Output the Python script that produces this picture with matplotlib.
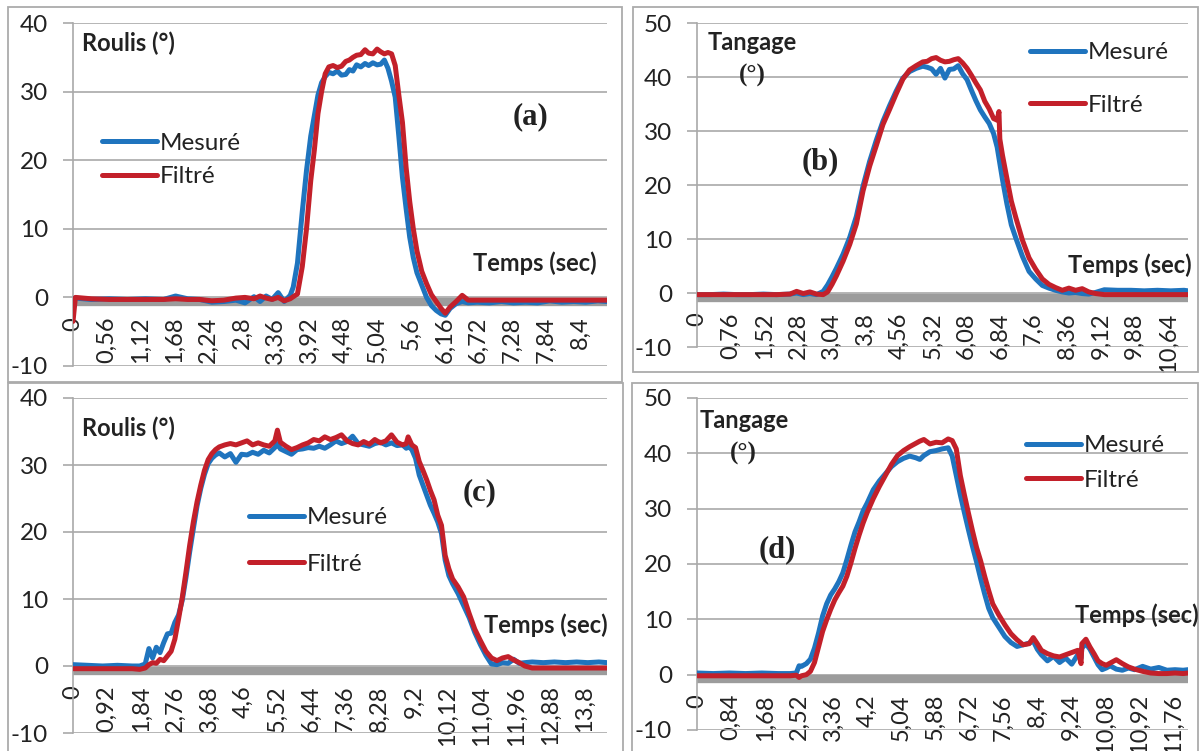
import matplotlib
matplotlib.use("Agg")
import matplotlib.pyplot as plt
from matplotlib.patches import Rectangle

# ---------------- data ----------------
# Panel (a) Roulis
t_a = [0, 0.04, 0.3, 0.6, 0.9, 1.2, 1.5, 1.7, 1.9, 2.1, 2.3, 2.5, 2.7, 2.85, 3.0, 3.1, 3.2, 3.3, 3.4, 3.5,
       3.6, 3.65, 3.72, 3.8, 3.87, 3.94, 4.0, 4.06, 4.12, 4.18, 4.24, 4.31, 4.38, 4.45, 4.52, 4.58, 4.64, 4.7, 4.77, 4.84,
       4.9, 4.97, 5.04, 5.1, 5.16, 5.22, 5.28, 5.34, 5.4, 5.46, 5.52, 5.58, 5.64, 5.7, 5.78, 5.86, 5.94, 6.02, 6.1, 6.17,
       6.25, 6.35, 6.45, 6.55, 6.7, 6.9, 7.1, 7.3, 7.5, 7.7, 7.9, 8.1, 8.3, 8.5, 8.7, 8.85]
mesure_a = [-0.2, -0.1, -0.3, -0.2, -0.3, -0.2, -0.3, 0.2, -0.2, -0.3, -0.7, -0.6, -0.4, -0.8, 0.1, -0.6, 0.2, -0.3, 0.7, -0.6,
            0.3, 1.5, 5.0, 12.5, 18.5, 23.5, 26.5, 29.5, 31.3, 32.2, 32.8, 32.6, 33.0, 32.4, 32.5, 33.2, 33.0, 33.9, 33.6, 34.1,
            33.8, 34.2, 33.9, 34.0, 34.6, 33.4, 31.5, 29.2, 23.5, 17.5, 13.0, 8.8, 5.8, 3.6, 1.8, 0.0, -1.2, -1.9, -2.4, -2.6,
            -1.6, -0.9, -0.6, -0.8, -0.7, -0.8, -0.6, -0.8, -0.7, -0.8, -0.5, -0.7, -0.6, -0.7, -0.5, -0.6]
filtre_a = [-3.5, 0.0, -0.2, -0.3, -0.3, -0.3, -0.3, -0.2, -0.3, -0.3, -0.5, -0.4, -0.1, 0.0, -0.2, 0.2, -0.1, -0.3, 0.0, -0.5,
            -0.2, 0.1, 0.5, 4.5, 10.0, 17.0, 21.5, 26.8, 30.0, 32.6, 33.6, 33.8, 33.5, 33.7, 34.4, 34.6, 35.0, 35.3, 35.4, 36.1,
            35.6, 35.5, 36.2, 35.8, 35.5, 35.7, 35.5, 33.8, 29.5, 25.5, 19.0, 14.0, 10.0, 6.8, 3.8, 2.0, 0.4, -0.6, -1.6, -2.3,
            -1.4, -0.6, 0.3, -0.4, -0.4, -0.4, -0.4, -0.4, -0.4, -0.4, -0.4, -0.4, -0.4, -0.4, -0.4, -0.4]

# Panel (b) Tangage
t_b = [0, 0.3, 0.6, 0.9, 1.2, 1.5, 1.8, 2.1, 2.25, 2.4, 2.55, 2.7, 2.85, 2.95, 3.05, 3.15, 3.3, 3.45, 3.6, 3.75,
       3.9, 4.05, 4.2, 4.35, 4.5, 4.65, 4.8, 4.95, 5.1, 5.2, 5.3, 5.4, 5.5, 5.6, 5.7, 5.8, 5.9, 6.0, 6.1, 6.2,
       6.3, 6.4, 6.5, 6.6, 6.7, 6.78, 6.82, 6.84, 6.9, 7.0, 7.1, 7.2, 7.35, 7.5, 7.65, 7.8, 7.95, 8.1, 8.25, 8.4,
       8.55, 8.7, 8.85, 9.0, 9.2, 9.5, 9.8, 10.1, 10.4, 10.7, 11.0, 11.09]
mesure_b = [-0.3, -0.3, -0.2, -0.3, -0.3, -0.2, -0.3, -0.2, 0.0, -0.3, -0.1, -0.3, 0.3, 1.5, 3.0, 4.6, 7.2, 10.3, 14.2, 19.8,
            24.4, 28.3, 31.8, 34.7, 37.4, 39.8, 41.0, 41.6, 42.0, 41.8, 41.5, 40.5, 41.6, 39.8, 41.4, 41.5, 42.1, 40.6, 39.5, 37.5,
            35.6, 33.9, 32.6, 31.4, 29.5, 27.0, 25.0, 24.0, 21.0, 16.5, 12.6, 10.2, 6.8, 4.0, 2.6, 1.4, 0.9, 0.5, 0.2, 0.0,
            0.1, -0.1, -0.2, 0.1, 0.6, 0.5, 0.5, 0.4, 0.5, 0.4, 0.5, 0.4]
filtre_b = [-0.3, -0.3, -0.3, -0.3, -0.3, -0.3, -0.3, -0.2, 0.3, -0.1, 0.2, -0.2, -0.3, 0.2, 1.6, 3.2, 5.9, 9.0, 12.8, 18.9,
            23.5, 27.3, 31.2, 34.0, 36.9, 39.6, 41.3, 42.1, 42.8, 42.9, 43.4, 43.6, 43.1, 42.8, 42.9, 43.2, 43.4, 42.6, 41.6, 40.3,
            38.9, 37.6, 35.5, 34.1, 32.3, 32.0, 33.6, 28.5, 25.5, 21.2, 17.0, 14.0, 9.8, 6.5, 4.4, 2.6, 1.6, 1.0, 0.5, 0.9,
            0.5, 0.8, 0.2, -0.1, -0.3, -0.3, -0.3, -0.3, -0.3, -0.3, -0.3, -0.3]

# Panel (c) Roulis
t_c = [0, 0.4, 0.8, 1.2, 1.6, 1.8, 1.95, 2.05, 2.15, 2.25, 2.35, 2.45, 2.55, 2.65, 2.75, 2.85, 2.95, 3.05, 3.15, 3.25,
       3.35, 3.45, 3.55, 3.65, 3.75, 3.85, 3.95, 4.1, 4.25, 4.4, 4.55, 4.7, 4.85, 5.0, 5.15, 5.3, 5.45, 5.52, 5.6, 5.75,
       5.9, 6.05, 6.2, 6.35, 6.5, 6.65, 6.8, 6.95, 7.1, 7.25, 7.4, 7.55, 7.7, 7.85, 8.0, 8.15, 8.3, 8.45, 8.6, 8.75,
       8.9, 9.0, 9.05, 9.15, 9.25, 9.35, 9.45, 9.55, 9.65, 9.75, 9.85, 9.95, 10.05, 10.15, 10.25, 10.4, 10.55, 10.7, 10.85, 11.0,
       11.15, 11.3, 11.45, 11.6, 11.75, 11.9, 12.05, 12.2, 12.4, 12.7, 13.0, 13.3, 13.6, 13.9, 14.2, 14.42]
mesure_c = [0.2, 0.1, 0.0, 0.1, 0.0, 0.0, 0.3, 2.6, 1.2, 2.8, 2.0, 3.5, 4.8, 4.9, 6.5, 7.6, 9.8, 13.2, 17.0, 20.5,
            23.9, 26.5, 28.6, 30.2, 31.0, 31.5, 31.8, 31.2, 31.7, 30.4, 31.6, 31.5, 31.9, 31.6, 32.2, 31.8, 32.6, 33.2, 32.4, 32.0,
            31.6, 32.3, 32.4, 32.6, 32.5, 32.8, 32.5, 33.0, 33.6, 33.2, 33.5, 34.3, 33.2, 33.0, 32.8, 33.2, 33.4, 33.0, 33.3, 32.9,
            33.0, 32.5, 32.8, 32.3, 31.0, 28.5, 27.0, 25.5, 24.0, 22.8, 21.5, 19.8, 15.8, 13.5, 12.3, 10.8, 9.0, 7.2, 5.0, 3.2,
            1.6, 0.3, 0.2, 0.5, 0.4, 1.0, 0.4, 0.5, 0.6, 0.5, 0.6, 0.5, 0.6, 0.5, 0.6, 0.5]
filtre_c = [-0.4, -0.4, -0.4, -0.4, -0.4, -0.5, -0.3, 0.2, 0.5, 0.4, 1.0, 0.8, 1.5, 2.2, 4.0, 7.0, 10.2, 14.0, 18.0, 21.5,
            24.5, 27.0, 29.2, 30.8, 31.7, 32.3, 32.7, 33.0, 33.2, 33.0, 33.3, 33.6, 33.0, 33.3, 33.0, 32.8, 33.6, 35.2, 33.4, 32.8,
            32.3, 32.6, 33.0, 33.3, 33.8, 33.6, 34.2, 33.8, 34.1, 34.5, 33.6, 33.2, 33.0, 33.5, 33.1, 33.8, 33.3, 33.6, 34.5, 33.4,
            33.0, 33.2, 34.2, 33.0, 32.6, 30.5, 29.2, 27.8, 26.2, 24.8, 22.5, 21.0, 16.5, 14.5, 13.0, 11.8, 10.3, 7.8, 5.5, 3.8,
            2.2, 1.2, 0.8, 1.2, 1.4, 0.9, 0.5, 0.0, -0.3, -0.3, -0.3, -0.3, -0.3, -0.3, -0.3, -0.3]

# Panel (d) Tangage
t_d = [0, 0.4, 0.8, 1.2, 1.6, 2.0, 2.3, 2.45, 2.52, 2.58, 2.7, 2.8, 2.9, 3.0, 3.1, 3.2, 3.3, 3.4, 3.5, 3.6,
       3.7, 3.8, 3.9, 4.0, 4.1, 4.2, 4.35, 4.5, 4.65, 4.8, 4.95, 5.1, 5.25, 5.4, 5.5, 5.6, 5.75, 5.9, 6.05, 6.2,
       6.3, 6.4, 6.5, 6.6, 6.7, 6.8, 6.9, 7.0, 7.1, 7.2, 7.3, 7.45, 7.6, 7.75, 7.9, 8.05, 8.2, 8.3, 8.4, 8.5,
       8.65, 8.8, 8.95, 9.1, 9.25, 9.4, 9.48, 9.5, 9.6, 9.7, 9.8, 9.9, 10.0, 10.1, 10.2, 10.35, 10.5, 10.65, 10.8, 11.0,
       11.2, 11.4, 11.6, 11.8, 12.0, 12.12]
mesure_d = [0.3, 0.2, 0.3, 0.2, 0.3, 0.2, 0.2, 0.3, 1.6, 1.5, 2.0, 2.8, 4.8, 7.5, 10.6, 12.8, 14.4, 15.5, 16.8, 18.4,
            20.8, 23.4, 25.8, 27.6, 29.6, 31.0, 33.4, 35.0, 36.3, 37.6, 38.5, 39.1, 39.5, 39.2, 38.9, 39.6, 40.3, 40.5, 40.8, 41.0,
            39.5, 36.0, 32.5, 29.3, 26.2, 23.2, 20.4, 17.4, 14.6, 12.0, 10.3, 8.6, 6.9, 5.8, 5.1, 5.4, 5.7, 6.1, 4.6, 3.6,
            2.5, 3.3, 2.2, 3.0, 1.9, 3.6, 3.0, 4.8, 5.6, 4.6, 3.2, 1.8, 0.9, 1.2, 1.6, 1.0, 0.8, 1.2, 0.9, 1.5,
            1.0, 1.3, 0.8, 0.9, 0.8, 0.9]
filtre_d = [-0.2, -0.2, -0.2, -0.2, -0.2, -0.2, -0.2, -0.1, -0.5, -0.2, 0.0, 0.6, 2.2, 5.0, 7.8, 9.9, 11.8, 13.5, 14.8, 16.0,
            17.8, 20.2, 22.8, 25.2, 27.4, 29.3, 31.8, 34.0, 36.0, 38.0, 39.6, 40.5, 41.2, 41.8, 42.2, 42.5, 41.7, 42.0, 41.9, 42.6,
            42.3, 40.8, 36.0, 32.5, 29.2, 26.0, 23.0, 20.6, 17.8, 15.2, 12.8, 10.8, 9.0, 7.4, 6.3, 5.4, 5.6, 6.7, 5.6, 4.4,
            3.8, 3.4, 3.2, 3.6, 4.0, 4.4, 2.0, 5.6, 6.4, 5.0, 3.8, 2.5, 2.0, 1.7, 2.1, 2.7, 2.0, 1.4, 1.0, 0.6,
            0.3, 0.2, 0.2, 0.3, 0.2, 0.3]

# category tick values (seconds)
xticks_a = [0, 0.56, 1.12, 1.68, 2.24, 2.8, 3.36, 3.92, 4.48, 5.04, 5.6, 6.16, 6.72, 7.28, 7.84, 8.4]
xticks_b = [0, 0.76, 1.52, 2.28, 3.04, 3.8, 4.56, 5.32, 6.08, 6.84, 7.6, 8.36, 9.12, 9.88, 10.64]
xticks_c = [0, 0.92, 1.84, 2.76, 3.68, 4.6, 5.52, 6.44, 7.36, 8.28, 9.2, 10.12, 11.04, 11.96, 12.88, 13.8]
xticks_d = [0, 0.84, 1.68, 2.52, 3.36, 4.2, 5.04, 5.88, 6.72, 7.56, 8.4, 9.24, 10.08, 10.92, 11.76]
yticks_roulis = [-10, 0, 10, 20, 30, 40]
yticks_tangage = [-10, 0, 10, 20, 30, 40, 50]
series_names = ["Mesuré", "Filtré"]

# ---------------- style ----------------
W, H = 1203, 751
BLUE = "#1F74BE"
RED = "#C3202A"
GRID = "#A9A9A9"
BAND = "#9C9C9C"
TXT = "#222222"
FONT = "Lato"
LEGSIZE = 17.5

fig = plt.figure(figsize=(W / 100, H / 100), dpi=100)


def fxy(px, py):
    return px / W, 1 - py / H


# panel frames
for (l, t, r, b) in [(8, 7, 622, 382), (633, 7, 1198, 372), (8, 383, 623, 760), (632, 383, 1198, 760)]:
    fig.add_artist(Rectangle(fxy(l, b), (r - l) / W, (b - t) / H, transform=fig.transFigure,
                             fill=False, edgecolor="#ABABAB", lw=1.3, clip_on=False))


def make_panel(box, t, mes, fil, xt, yt, xmax, leg_xy, leg_space):
    l, top, r, bot = box
    ax = fig.add_axes([l / W, 1 - bot / H, (r - l) / W, (bot - top) / H])
    ymin, ymax = yt[0], yt[-1]
    ax.set_xlim(0, xmax)
    ax.set_ylim(ymin, ymax)
    ppu = (bot - top) / (ymax - ymin)
    ax.axhline(-4.5 / ppu, color=BAND, lw=6.0, zorder=1.5, solid_capstyle="butt")
    l1, = ax.plot(t, mes, color=BLUE, lw=3.6, zorder=3, solid_capstyle="round", solid_joinstyle="round")
    l2, = ax.plot(t, fil, color=RED, lw=3.6, zorder=4, solid_capstyle="round", solid_joinstyle="round")
    ax.set_yticks(yt)
    ax.set_yticklabels([str(v) for v in yt])
    ax.set_xticks(xt)
    ax.set_xticklabels(["{:g}".format(v).replace(".", ",") for v in xt])
    ax.yaxis.grid(True, color=GRID, lw=1.2)
    ax.set_axisbelow(True)
    for s in ["top", "right"]:
        ax.spines[s].set_visible(False)
    ax.spines["bottom"].set_position(("data", 0))
    ax.spines["bottom"].set_visible(False)
    ax.spines["left"].set_color(GRID)
    ax.spines["left"].set_linewidth(1.2)
    ax.tick_params(axis="y", length=7, width=1.2, color=GRID, pad=11, labelsize=17.5, labelcolor=TXT)
    ax.tick_params(axis="x", length=0, pad=14, labelsize=17, labelcolor=TXT, labelrotation=90)
    for lab in ax.get_xticklabels() + ax.get_yticklabels():
        lab.set_fontfamily(FONT)
    for lab in ax.get_xticklabels():
        lab.set_verticalalignment("top")
        lab.set_horizontalalignment("center")
    ax.set_facecolor("none")
    lx, ly = leg_xy
    ax.legend([l1, l2], series_names, loc="center left", bbox_to_anchor=fxy(lx, ly),
              bbox_transform=fig.transFigure, frameon=False, borderpad=0, borderaxespad=0,
              handlelength=2.25, handletextpad=0.12, labelspacing=leg_space,
              prop={"family": FONT, "size": LEGSIZE}, labelcolor=TXT)
    return ax


make_panel((73, 23, 607, 366), t_a, mesure_a, filtre_a, xticks_a, yticks_roulis, 8.85, (102, 160), 0.53)
make_panel((697, 23, 1188, 347), t_b, mesure_b, filtre_b, xticks_b, yticks_tangage, 11.09, (1030, 79), 1.28)
make_panel((73, 398, 607, 733), t_c, mesure_c, filtre_c, xticks_c, yticks_roulis, 14.42, (249, 541), 1.03)
make_panel((697, 398, 1188, 730), t_d, mesure_d, filtre_d, xticks_d, yticks_tangage, 12.12, (1026, 463), 0.54)


def ftext(px, py, s, ha="left", family=FONT, size=17, weight="bold"):
    fig.text(*fxy(px, py), s, ha=ha, va="center", family=family, size=size, weight=weight, color=TXT)


# axis titles
ftext(82, 43, "Roulis (°)")
ftext(82, 428, "Roulis (°)")
ftext(752, 42, "Tangage", ha="center")
ftext(752, 75, "(°)", ha="center", family="Liberation Serif", size=18)
ftext(744, 420, "Tangage", ha="center")
ftext(743, 453, "(°)", ha="center", family="Liberation Serif", size=18)
ftext(597, 263, "Temps (sec)", ha="right")
ftext(1192, 265, "Temps (sec)", ha="right")
ftext(484, 625, "Temps (sec)")
ftext(1075, 615, "Temps (sec)")

# panel letters
for (px, py, s) in [(530, 117, "(a)"), (820, 162, "(b)"), (480, 493, "(c)"), (777, 550, "(d)")]:
    ftext(px, py, s, ha="center", family="Liberation Serif", size=22)

fig.savefig("out.png", dpi=100)
